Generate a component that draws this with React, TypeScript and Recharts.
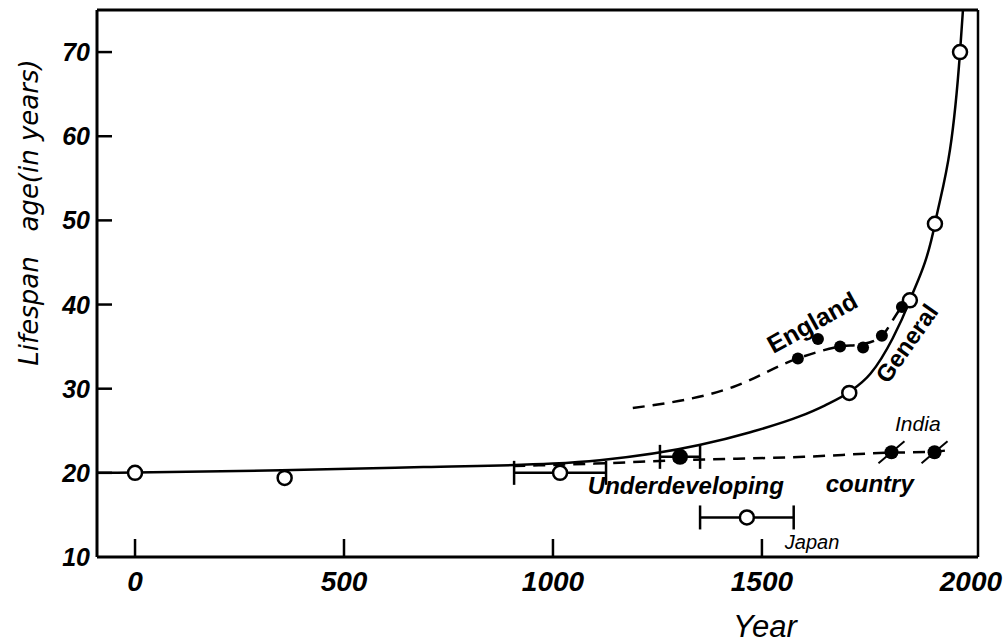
import {
  ComposedChart,
  Line,
  Scatter,
  XAxis,
  YAxis,
  ErrorBar,
  ReferenceLine,
  ReferenceDot,
} from "recharts"

const yearTicks = [0, 500, 1000, 1500, 2000]
const ageTicks = [10, 20, 30, 40, 50, 60, 70]

// "General" fitted curve
const curveYears = [-91, 0, 350, 690, 1000, 1112, 1350, 1470, 1590, 1650, 1709, 1760, 1813, 1854, 1914, 1974, 1981]
const curveAges = [20, 20.05, 20.3, 20.7, 21.1, 21.5, 23.3, 24.8, 26.7, 28.0, 29.6, 31.8, 36.0, 40.5, 49.6, 70, 75]

// England trend (dashed)
const englandLineYears = [1191, 1431, 1586, 1687, 1742, 1787, 1835, 1854]
const englandLineAges = [27.7, 30.2, 33.6, 35.0, 35.3, 36.3, 39.7, 40.5]

// Underdeveloping country trend (dashed)
const underLineYears = [905, 1100, 1304, 1600, 1810, 1913, 1945]
const underLineAges = [20.8, 21.1, 21.5, 21.9, 22.4, 22.5, 22.7]

// observations
const generalYears = [0, 358, 1709, 1854, 1914, 1974]
const generalAges = [20, 19.4, 29.5, 40.5, 49.6, 70]

const rangedYears = [1017, 1464] // open circles with date ranges (1000 AD, Japan)
const rangedAges = [20, 14.7]
const rangedSpread = [110, 112]

const medievalYears = [1304]
const medievalAges = [21.9]
const medievalSpread = [48]

const englandYears = [1586, 1634, 1687, 1742, 1787, 1835]
const englandAges = [33.6, 35.9, 35.0, 34.9, 36.3, 39.7]

const indiaYears = [1810, 1913]
const indiaAges = [22.45, 22.45]

const zip = (xs: number[], ys: number[], err?: number[]) =>
  xs.map((x, i) => (err ? { x, y: ys[i], err: err[i] } : { x, y: ys[i] }))

const curve = zip(curveYears, curveAges)
const englandLine = zip(englandLineYears, englandLineAges)
const underLine = zip(underLineYears, underLineAges)
const general = zip(generalYears, generalAges)
const ranged = zip(rangedYears, rangedAges, rangedSpread)
const medieval = zip(medievalYears, medievalAges, medievalSpread)
const england = zip(englandYears, englandAges)
const india = zip(indiaYears, indiaAges)

const notes = [
  { x: 1620, y: 37.9, text: "England", angle: -29, size: 25, italic: false, bold: true },
  { x: 1846, y: 35.4, text: "General", angle: -55, size: 24, italic: false, bold: true },
  { x: 1873, y: 25.9, text: "India", angle: 0, size: 21, italic: true, bold: false },
  { x: 1318, y: 18.5, text: "Underdeveloping", angle: 0, size: 24, italic: true, bold: true },
  { x: 1758, y: 18.8, text: "country", angle: 0, size: 24, italic: true, bold: true },
  { x: 1620, y: 11.8, text: "Japan", angle: 0, size: 20, italic: true, bold: false },
]

const FONT = "'Liberation Sans', Arial, sans-serif"

const OpenDot = (p: any) => (
  <circle cx={p.cx} cy={p.cy} r={7} fill="#fff" stroke="#000" strokeWidth={2.5} />
)
const FilledDot = (r: number) => (p: any) => <circle cx={p.cx} cy={p.cy} r={r} fill="#000" />
const SlashDot = (p: any) => (
  <g>
    <line x1={p.cx - 13} y1={p.cy + 11} x2={p.cx + 13} y2={p.cy - 11} stroke="#000" strokeWidth={2} />
    <circle cx={p.cx} cy={p.cy} r={7} fill="#000" />
  </g>
)

const XTick = (p: any) => {
  const v = p.payload.value
  return (
    <g>
      {v !== 2000 && <line x1={p.x} y1={p.y} x2={p.x} y2={p.y - 18} stroke="#000" strokeWidth={2.5} />}
      <text x={p.x} y={p.y + 34} textAnchor="middle" fontFamily={FONT} fontSize={28} fontWeight="bold" fontStyle="italic" fill="#000">
        {v}
      </text>
    </g>
  )
}

const YTick = (p: any) => {
  const v = p.payload.value
  return (
    <g>
      {v !== 10 && <line x1={p.x} y1={p.y} x2={p.x + 15} y2={p.y} stroke="#000" strokeWidth={2.5} />}
      <text x={p.x - 7} y={p.y} dy="0.36em" textAnchor="end" fontFamily={FONT} fontSize={25} fontWeight="bold" fontStyle="italic" fill="#000">
        {v}
      </text>
    </g>
  )
}

const noteLabel = (n: (typeof notes)[number]) => (props: any) => {
  const vb = props.viewBox
  const cx = vb.x + vb.width / 2
  const cy = vb.y + vb.height / 2
  return (
    <text
      x={cx}
      y={cy}
      dy="0.36em"
      textAnchor="middle"
      transform={`rotate(${n.angle} ${cx} ${cy})`}
      fontFamily={FONT}
      fontSize={n.size}
      fontWeight={n.bold ? "bold" : "normal"}
      fontStyle={n.italic ? "italic" : "normal"}
      fill="#000"
    >
      {n.text}
    </text>
  )
}

export default function App() {
  return (
    <div style={{ position: "absolute", left: 0, top: 0, background: "#fff" }}>
      <ComposedChart width={1005} height={643} margin={{ top: 10, right: 27, left: 0, bottom: 0 }}>
        <XAxis
          type="number"
          dataKey="x"
          domain={[-91, 2017]}
          allowDataOverflow
          ticks={yearTicks}
          height={86}
          axisLine={{ stroke: "#000", strokeWidth: 3 }}
          tickLine={false}
          tickSize={0}
          tickMargin={0}
          tick={<XTick />}
          label={{
            content: (props: any) => {
              const vb = props.viewBox
              return (
                <text x={vb.x + 668} y={vb.y + 80} textAnchor="middle" fontFamily={FONT} fontSize={31} fontStyle="italic" fill="#000">
                  Year
                </text>
              )
            },
          }}
        />
        <YAxis
          type="number"
          domain={[10, 75]}
          allowDataOverflow
          ticks={ageTicks}
          width={97}
          axisLine={{ stroke: "#000", strokeWidth: 3 }}
          tickLine={false}
          tickSize={0}
          tickMargin={0}
          tick={<YTick />}
          label={{
            content: (props: any) => {
              const vb = props.viewBox
              const cx = 29
              const cy = vb.y + vb.height / 2 - 71
              return (
                <text
                  x={cx}
                  y={cy}
                  dy="0.36em"
                  textAnchor="middle"
                  transform={`rotate(-90 ${cx} ${cy})`}
                  fontFamily="'DejaVu Sans', sans-serif"
                  fontSize={26}
                  fontStyle="italic"
                  fill="#000"
                >
                  {"Lifespan\u00a0\u00a0\u00a0age(in years)"}
                </text>
              )
            },
          }}
        />
        <ReferenceLine y={75} stroke="#000" strokeWidth={3} />
        <ReferenceLine x={2017} stroke="#000" strokeWidth={2.5} />

        <Line data={curve} dataKey="y" type="monotone" stroke="#000" strokeWidth={2.5} dot={false} isAnimationActive={false} />
        <Line data={englandLine} dataKey="y" type="monotone" stroke="#000" strokeWidth={2.5} strokeDasharray="12 8" dot={false} isAnimationActive={false} />
        <Line data={underLine} dataKey="y" type="monotone" stroke="#000" strokeWidth={2.5} strokeDasharray="12 8" dot={false} isAnimationActive={false} />

        <Scatter data={general} dataKey="y" shape={OpenDot} isAnimationActive={false} />
        <Scatter data={ranged} dataKey="y" shape={OpenDot} isAnimationActive={false}>
          <ErrorBar dataKey="err" direction="x" width={12} stroke="#000" strokeWidth={2.5} />
        </Scatter>
        <Scatter data={medieval} dataKey="y" shape={FilledDot(8)} isAnimationActive={false}>
          <ErrorBar dataKey="err" direction="x" width={12} stroke="#000" strokeWidth={2.5} />
        </Scatter>
        <Scatter data={england} dataKey="y" shape={FilledDot(6)} isAnimationActive={false} />
        <Scatter data={india} dataKey="y" shape={SlashDot} isAnimationActive={false} />

        {notes.map((n) => (
          <ReferenceDot
            key={n.text}
            x={n.x}
            y={n.y}
            r={1}
            fill="none"
            stroke="none"
            label={{ content: noteLabel(n) }}
          />
        ))}
      </ComposedChart>
    </div>
  )
}
